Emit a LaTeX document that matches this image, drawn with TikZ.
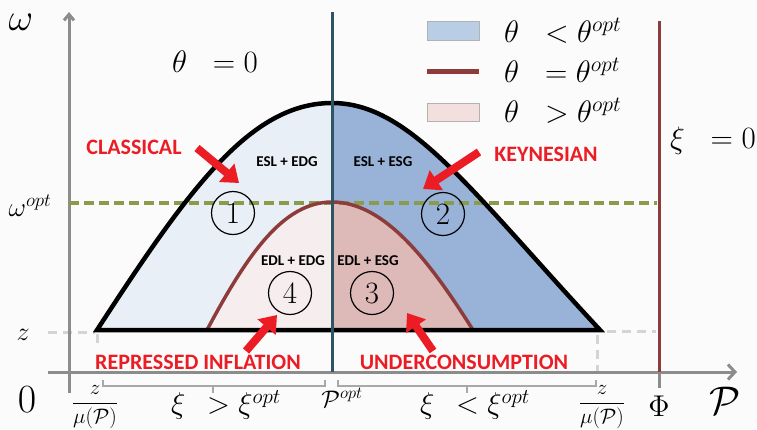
\RequirePackage{fix-cm}
\documentclass[tikz,border=0pt]{standalone}
\usepackage[no-math]{fontspec}
\newfontfamily\carl{Carlito}
\usetikzlibrary{arrows.meta}
\definecolor{bgc}{HTML}{FBFBFB}
\definecolor{lblue}{HTML}{E9EFF7}
\definecolor{dblue}{HTML}{98B3D7}
\definecolor{lpink}{HTML}{F6EEEE}
\definecolor{dpink}{HTML}{DDB9B8}
\definecolor{legblue}{HTML}{B9CDE5}
\definecolor{legpink}{HTML}{F2DFDE}
\definecolor{brown}{HTML}{8E3B3B}
\definecolor{teal}{HTML}{2E5566}
\definecolor{olive}{HTML}{8A9B4B}
\definecolor{axisgray}{HTML}{8C8C8C}
\definecolor{guidegray}{HTML}{D4D4D4}
\definecolor{bracegray}{HTML}{A8A8A8}
\definecolor{myred}{HTML}{EC1C24}
\def\bigcurve{(97,330) .. controls (188,190) and (250,103) .. (332,103) .. controls (410,103) and (470,190) .. (600,330)}
\def\smallcurve{(207,330) .. controls (247,255) and (283,202) .. (332,202) .. controls (385,202) and (430,262) .. (473,330)}
\begin{document}
\begin{tikzpicture}[x=1pt,y=-1pt,
 redlbl/.style={font=\carl\bfseries\fontsize{22}{22}\selectfont, text=myred, inner sep=0},
 regionlbl/.style={font=\carl\bfseries\fontsize{15}{15}\selectfont, inner sep=0},
 numcirc/.style={circle, draw, line width=1.2pt, minimum size=43pt, inner sep=0, font=\fontsize{31}{31}\selectfont},
 redarrow/.style={draw=myred, line width=8pt, -{Triangle[length=16pt,width=23pt]}},
 mathlbl/.style={inner sep=0, font=\fontsize{31}{31}\selectfont},
 axisline/.style={draw=axisgray, line width=3pt},
 guide/.style={draw=guidegray, line width=3pt, dash pattern=on 9pt off 6pt},
 bracket/.style={draw=bracegray, line width=1.5pt},
]
\useasboundingbox[fill=bgc] (0,0) rectangle (757,429);

% region fills
\begin{scope}
 \clip (0,0) rectangle (332,429);
 \fill[lblue] \bigcurve -- cycle;
 \fill[lpink] \smallcurve -- cycle;
\end{scope}
\begin{scope}
 \clip (332,0) rectangle (757,429);
 \fill[dblue] \bigcurve -- cycle;
 \fill[dpink] \smallcurve -- cycle;
\end{scope}

% guides
\draw[guide] (48,332) -- (95,332);
\draw[guide] (97,334) -- (97,346);
\draw[guide] (607,331) -- (656,331);
\draw[guide] (597,335) -- (597,372);

% axes
\coordinate (yb) at (69,393);
\coordinate (yt) at (69,12);
\coordinate (xl) at (48,372);
\coordinate (xr) at (737,372);
\draw[axisline, -{Straight Barb[length=6pt,width=10pt]}] (yb) -- (yt);
\draw[axisline, -{Straight Barb[length=7pt,width=15pt]}] (xl) -- (xr);
\draw[axisline] (659,372) -- (659,388);

% omega opt line
\coordinate (wl) at (69,203);
\coordinate (wr) at (657,203);
\draw[olive, line width=3.4pt, dash pattern=on 10pt off 5pt] (wl) -- (wr);

% curves
\draw[brown, line width=3.5pt] \smallcurve;
\draw[black, line width=4.5pt, line join=miter] \bigcurve -- cycle;

% vertical lines
\coordinate (ct) at (332,12);
\coordinate (cb) at (332,372);
\draw[teal, line width=3pt] (ct) -- (cb);
\coordinate (bt) at (659,21);
\coordinate (bb) at (659,372);
\draw[brown, line width=3pt] (bt) -- (bb);

% brackets
\draw[bracket] (103,380) -- (103,386) -- (325,386) -- (325,380);
\draw[bracket] (213,386) -- (213,393);
\draw[bracket] (338,380) -- (338,386) -- (596,386) -- (596,380);
\draw[bracket] (467,386) -- (467,393);

% legend
\node[draw=gray!60, line width=0.5pt, fill=legblue, minimum width=52pt, minimum height=19pt, inner sep=0] (lg1) at (453,31) {};
\coordinate (lg2a) at (427,71);
\coordinate (lg2b) at (479,71);
\draw[brown, line width=5pt] (lg2a) -- (lg2b);
\node[draw=gray!60, line width=0.5pt, fill=legpink, minimum width=52pt, minimum height=18pt, inner sep=0] (lg3) at (453,112) {};
\node[mathlbl, anchor=west] (t1) at (504,31) {$\theta\;\;<\theta^{opt}$};
\node[mathlbl, anchor=west] (t2) at (504,70) {$\theta\;\;=\theta^{opt}$};
\node[mathlbl, anchor=west] (t3) at (504,111) {$\theta\;\;>\theta^{opt}$};

% math labels
\node[inner sep=0, font=\fontsize{38}{38}\selectfont] (om) at (21,22) {$\omega$};
\node[mathlbl] (th0) at (215,62) {$\theta\;\;=0$};
\node[mathlbl] (xi0) at (713,141) {$\xi\;\;=0$};
\node[inner sep=0, font=\fontsize{27}{27}\selectfont] (wopt) at (30,206) {$\omega^{opt}$};
\node[inner sep=0, font=\fontsize{26}{26}\selectfont] (zl) at (23,335) {$z$};
\node[inner sep=0, font=\fontsize{40}{40}\selectfont] (zero) at (27,400) {$0$};
\node[inner sep=0, font=\fontsize{40}{40}\selectfont] (PP) at (725,401) {$\mathcal{P}$};
\node[inner sep=0, font=\fontsize{12}{12}\selectfont] (Phi) at (659,406) {\scalebox{2.5}{$\Phi$}};
\node[inner sep=0, font=\fontsize{21}{21}\selectfont] (f1) at (95,407) {$\displaystyle\frac{z}{\mu(\mathcal{P})}$};
\node[inner sep=0, font=\fontsize{21}{21}\selectfont] (f2) at (602,407) {$\displaystyle\frac{z}{\mu(\mathcal{P})}$};
\node[inner sep=0, font=\fontsize{30}{30}\selectfont] (xg) at (226,405) {$\xi\;\,>\xi^{opt}$};
\node[inner sep=0, font=\fontsize{30}{30}\selectfont] (xs) at (475,405) {$\xi\;\,<\xi^{opt}$};
\node[inner sep=0, font=\fontsize{24}{24}\selectfont] (popt) at (342,398) {$\mathcal{P}^{opt}$};

% region labels
\node[regionlbl] (r1) at (287,162) {ESL + EDG};
\node[regionlbl] (r2) at (383,162) {ESL + ESG};
\node[regionlbl] (r4) at (293,261) {EDL + EDG};
\node[regionlbl] (r3) at (368,261) {EDL + ESG};

% circled numbers
\node[numcirc] (c1) at (233,213) {1};
\node[numcirc] (c2) at (443,214) {2};
\node[numcirc] (c4) at (290,293) {4};
\node[numcirc] (c3) at (372,293) {3};

% red labels
\node[redlbl] (cl) at (134,147) {CLASSICAL};
\node[redlbl] (ky) at (546,154) {KEYNESIAN};
\node[redlbl] (ri) at (198,362) {REPRESSED INFLATION};
\node[redlbl] (uc) at (464,362) {UNDERCONSUMPTION};

% red arrows
\coordinate (a1s) at (197,148); \coordinate (a1e) at (239,183);
\coordinate (a2s) at (479,152); \coordinate (a2e) at (423,189);
\coordinate (a3s) at (246,351); \coordinate (a3e) at (277,315);
\coordinate (a4s) at (433,351); \coordinate (a4e) at (407,313);
\draw[redarrow] (a1s) -- (a1e);
\draw[redarrow] (a2s) -- (a2e);
\draw[redarrow] (a3s) -- (a3e);
\draw[redarrow] (a4s) -- (a4e);
\end{tikzpicture}
\end{document}
